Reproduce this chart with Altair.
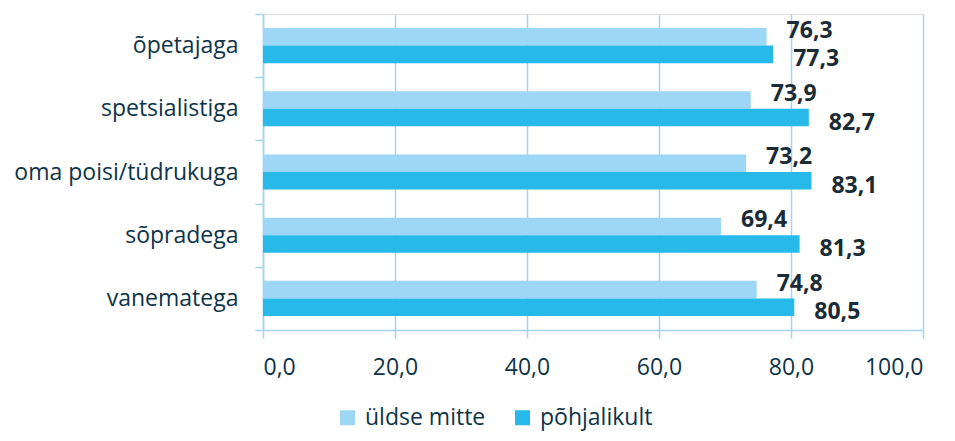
import altair as alt
import pandas as pd

categories = ["õpetajaga", "spetsialistiga", "oma poisi/tüdrukuga", "sõpradega", "vanematega"]
series_names = ["üldse mitte", "põhjalikult"]
uldse_mitte = [76.3, 73.9, 73.2, 69.4, 74.8]
pohjalikult = [77.3, 82.7, 83.1, 81.3, 80.5]
x_ticks = [0, 20, 40, 60, 80, 100]

rows = []
for c, a, b in zip(categories, uldse_mitte, pohjalikult):
    rows.append({"kat": c, "seeria": series_names[0], "v": a})
    rows.append({"kat": c, "seeria": series_names[1], "v": b})
df = pd.DataFrame(rows)

LIGHT = "#9dd7f5"
DARK = "#26b9ea"
GRID = "#a6d3ef"
TXT = "#0e3449"
FONT = "Open Sans"

y_enc = alt.Y("kat:N", sort=categories, title=None,
              scale=alt.Scale(paddingInner=0, paddingOuter=0),
              axis=alt.Axis(tickBand="extent", domainColor=GRID, tickColor=GRID,
                            tickSize=8, labelFontSize=23, labelFont=FONT, labelFontWeight=500,
                            labelColor=TXT, labelPadding=17, grid=False, labelLimit=0,
                            domainWidth=1.5, tickWidth=1.5))
x_enc = alt.X("v:Q", title=None,
              scale=alt.Scale(domain=[0, 100], nice=False),
              axis=alt.Axis(values=x_ticks, domain=True, domainColor=GRID, domainWidth=1.5,
                            tickColor=GRID, tickSize=8,
                            gridColor=GRID, grid=True, gridWidth=1.5, tickWidth=1.5,
                            labelExpr="replace(format(datum.value, '.1f'), '.', ',')",
                            labelFontSize=23, labelFont=FONT, labelFontWeight=500,
                            labelColor=TXT, labelPadding=18))
yoff = alt.YOffset("seeria:N", sort=series_names,
                   scale=alt.Scale(paddingInner=0, paddingOuter=0.8))

bars = alt.Chart(df).mark_bar().encode(
    y=y_enc, x=x_enc, yOffset=yoff,
    color=alt.Color("seeria:N", sort=series_names,
                    scale=alt.Scale(domain=series_names, range=[LIGHT, DARK]),
                    legend=alt.Legend(title=None, orient="none", direction="horizontal",
                                      legendX=73, legendY=392, symbolType="square",
                                      symbolSize=225, symbolStrokeWidth=0,
                                      labelFontSize=23, labelFont=FONT, labelFontWeight=500,
                                      labelColor=TXT,
                                      columnPadding=25, labelOffset=6, labelLimit=300)),
)

base_txt = alt.Chart(df).transform_calculate(
    lab="replace(format(datum.v, '.1f'), '.', ',')"
)
txt_light = base_txt.transform_filter(alt.datum.seeria == series_names[0]).mark_text(
    align="left", baseline="middle", dx=20, dy=-6, fontSize=23, fontWeight="bold",
    font=FONT, color="#1a2b36"
).encode(y=alt.Y("kat:N", sort=categories), x="v:Q", yOffset=yoff, text="lab:N")
txt_dark = base_txt.transform_filter(alt.datum.seeria == series_names[1]).mark_text(
    align="left", baseline="middle", dx=20, dy=5, fontSize=23, fontWeight="bold",
    font=FONT, color="#1a2b36"
).encode(y=alt.Y("kat:N", sort=categories), x="v:Q", yOffset=yoff, text="lab:N")

chart = alt.layer(bars, txt_light, txt_dark).properties(
    width=660, height=316,
    autosize=alt.AutoSizeParams(type="none"),
    padding={"left": 255, "top": 6, "right": 24, "bottom": 103},
).configure_view(stroke=None).configure(background="white")

chart.save("out.html", embed_options={"renderer": "svg", "actions": False})
